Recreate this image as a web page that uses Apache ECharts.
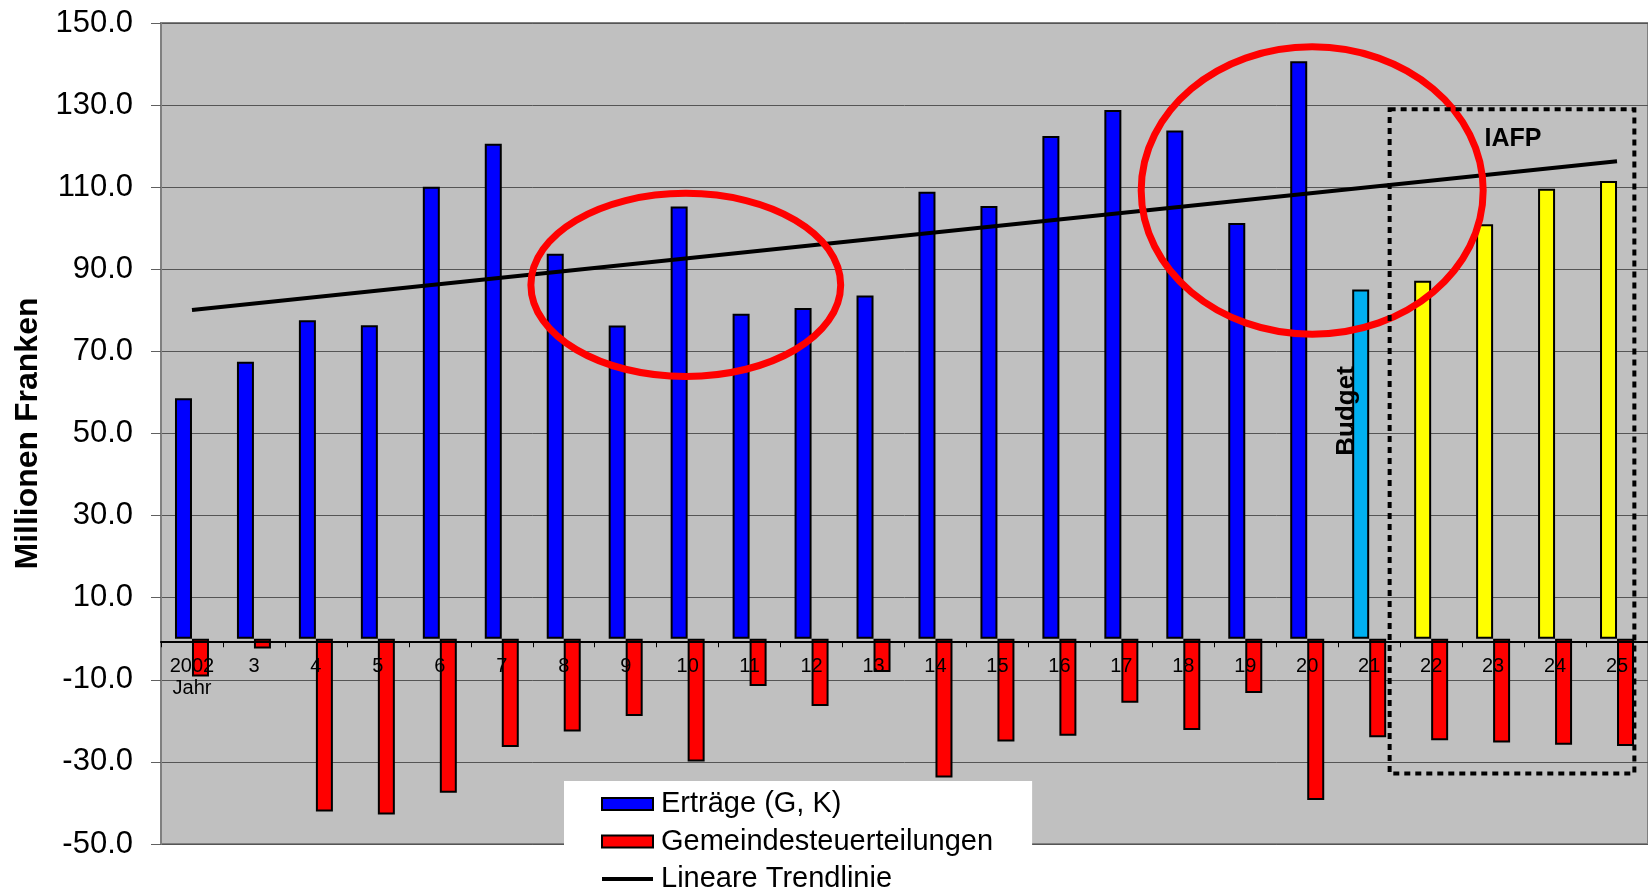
<!DOCTYPE html>
<html>
<head>
<meta charset="utf-8">
<script src="https://cdn.jsdelivr.net/npm/echarts@6/dist/echarts.min.js"></script>
<style>
  html, body { margin: 0; padding: 0; background: #ffffff; }
  #chart { width: 1648px; height: 892px; }
</style>
</head>
<body>
<div id="chart"></div>
<script>
// Jahre (2002 ... 2025, abgekürzt)
const years = ['2002\nJahr', '3', '4', '5', '6', '7', '8', '9', '10', '11', '12', '13',
               '14', '15', '16', '17', '18', '19', '20', '21', '22', '23', '24', '25'];

// Erträge (G, K) in Mio. Franken
const ertraege = [58.6, 67.5, 77.6, 76.4, 110.1, 120.6, 93.8, 76.3, 105.3, 79.2, 80.6, 83.6,
                  108.9, 105.4, 122.5, 128.8, 123.8, 101.3, 140.7, 85.1, 87.2, 101.0, 109.6, 111.5];

// Gemeindesteuerteilungen in Mio. Franken
const steuerteilungen = [-9.2, -2.4, -42.1, -42.8, -37.5, -26.4, -22.6, -18.8, -29.9, -11.5, -16.4, -8.1,
                         -33.8, -25.0, -23.6, -15.6, -22.2, -13.2, -39.3, -24.0, -24.7, -25.3, -25.8, -26.1];

// Lineare Trendlinie: Anfangs- und Endwert
const trendStart = 80.1;
const trendEnd = 116.3;

// Jahre mit Budget bzw. IAFP-Planwerten
const budgetYears = ['21'];
const planYears = ['22', '23', '24', '25'];

// Beschriftete Werte der Y-Achse
const yTicks = [-50, -30, -10, 10, 30, 50, 70, 90, 110, 130, 150];

const FONT = "'Liberation Sans', Arial, sans-serif";

const barColor = (year) =>
  budgetYears.includes(year) ? '#00B0F0' : planYears.includes(year) ? '#FFFF00' : '#0000FF';

const chart = echarts.init(document.getElementById('chart'), null, { renderer: 'canvas' });

chart.setOption({
  animation: false,
  backgroundColor: '#ffffff',
  grid: {
    left: 161, top: 23, right: -3, bottom: 48,
    show: true, backgroundColor: '#C0C0C0', borderColor: '#808080', borderWidth: 2
  },
  legend: {
    orient: 'horizontal',
    left: 564, top: 781, width: 400,
    padding: [8, 39, 20, 37],
    backgroundColor: '#ffffff',
    itemWidth: 51, itemHeight: 12, itemGap: 7.5,
    textStyle: { fontFamily: FONT, fontSize: 29, lineHeight: 30, color: '#000', padding: [0, 0, 0, 3] },
    data: [
      { name: 'Erträge (G, K)', icon: 'rect' },
      { name: 'Gemeindesteuerteilungen', icon: 'rect' },
      { name: 'Lineare Trendlinie', icon: 'path://M0,0H51V4H0Z' }
    ]
  },
  xAxis: {
    type: 'category',
    data: years,
    z: 5,
    boundaryGap: true,
    axisLine: { onZero: false, lineStyle: { color: '#000', width: 2 } },
    axisTick: { show: true, length: 6, lineStyle: { color: '#000', width: 1 } },
    axisLabel: {
      interval: 0, margin: 14, color: '#000',
      fontFamily: FONT, fontSize: 20, lineHeight: 22
    },
    splitLine: { show: false }
  },
  yAxis: {
    type: 'value',
    min: -50, max: 150, interval: 10,
    name: 'Millionen Franken',
    nameLocation: 'middle',
    nameRotate: 90,
    nameGap: 115,
    nameTextStyle: { fontFamily: FONT, fontSize: 32, fontWeight: 'bold', color: '#000' },
    axisLine: { show: true, lineStyle: { color: '#808080', width: 2 } },
    axisTick: { show: true, length: 10, customValues: yTicks, lineStyle: { color: '#606060', width: 1 } },
    axisLabel: {
      customValues: yTicks, margin: 28, color: '#000',
      fontFamily: FONT, fontSize: 31,
      formatter: (v) => v.toFixed(1)
    },
    splitLine: { show: true, lineStyle: { color: '#555555', width: 1 } }
  },
  series: [
    {
      name: 'Erträge (G, K)',
      type: 'bar',
      barWidth: 17,
      barGap: '0%',
      itemStyle: { color: '#0000FF', borderColor: '#000', borderWidth: 2 },
      data: ertraege.map((v, i) => ({ value: v, itemStyle: { color: barColor(years[i]) } }))
    },
    {
      name: 'Gemeindesteuerteilungen',
      type: 'bar',
      barWidth: 17,
      barGap: '0%',
      itemStyle: { color: '#FF0000', borderColor: '#000', borderWidth: 2 },
      data: steuerteilungen
    },
    {
      name: 'Lineare Trendlinie',
      type: 'line',
      symbol: 'none',
      lineStyle: { color: '#000', width: 4 },
      itemStyle: { color: '#000' },
      data: [[years[0], trendStart], [years[years.length - 1], trendEnd]]
    }
  ]
});

// Kategorienachse auf die Nulllinie legen (Linie, Striche und Beschriftung)
const zeroY = chart.convertToPixel({ yAxisIndex: 0 }, 0);
const baseY = chart.convertToPixel({ yAxisIndex: 0 }, -50);
chart.setOption({ xAxis: { offset: zeroY - baseY } });

// Markierungen (in Achseneinheiten: Kategorienindex / Wert)
const rings = [
  { idx: 7.97, value: 86.2, rxCat: 2.5, ryVal: 22.3 },
  { idx: 18.08, value: 109.2, rxCat: 2.76, ryVal: 35.0 }
];
const planBox = { idxFrom: 19.33, idxTo: 23.28, top: 129.0, bottom: -32.8 };
const notes = [
  { text: 'IAFP', idx: 21.32, value: 121.8, rotate: false },
  { text: 'Budget', idx: 18.64, value: 55.5, rotate: true }
];

function toPx(idx, val) {
  const a = chart.convertToPixel({ gridIndex: 0 }, [0, val]);
  const b = chart.convertToPixel({ gridIndex: 0 }, [1, val]);
  return [a[0] + (b[0] - a[0]) * idx, a[1]];
}

const step = toPx(1, 0)[0] - toPx(0, 0)[0];
const graphics = [];

rings.forEach((r) => {
  const c = toPx(r.idx, r.value);
  const ry = Math.abs(toPx(r.idx, r.value + r.ryVal)[1] - c[1]);
  graphics.push({
    type: 'ellipse', z: 100,
    shape: { cx: c[0], cy: c[1], rx: r.rxCat * step, ry: ry },
    style: { fill: null, stroke: '#FF0000', lineWidth: 7 }
  });
});

const p1 = toPx(planBox.idxFrom, planBox.top);
const p2 = toPx(planBox.idxTo, planBox.bottom);
graphics.push({
  type: 'rect', z: 100,
  shape: { x: p1[0], y: p1[1], width: p2[0] - p1[0], height: p2[1] - p1[1] },
  style: { fill: null, stroke: '#000', lineWidth: 4, lineDash: [6, 5] }
});

notes.forEach((n) => {
  const p = toPx(n.idx, n.value);
  graphics.push({
    type: 'text', z: 101,
    x: p[0], y: p[1],
    rotation: n.rotate ? Math.PI / 2 : 0,
    style: {
      text: n.text, fill: '#000',
      font: 'bold ' + (n.rotate ? 26 : 25) + 'px ' + FONT,
      align: 'center', verticalAlign: 'middle'
    }
  });
});

chart.setOption({ graphic: graphics });
</script>
</body>
</html>
